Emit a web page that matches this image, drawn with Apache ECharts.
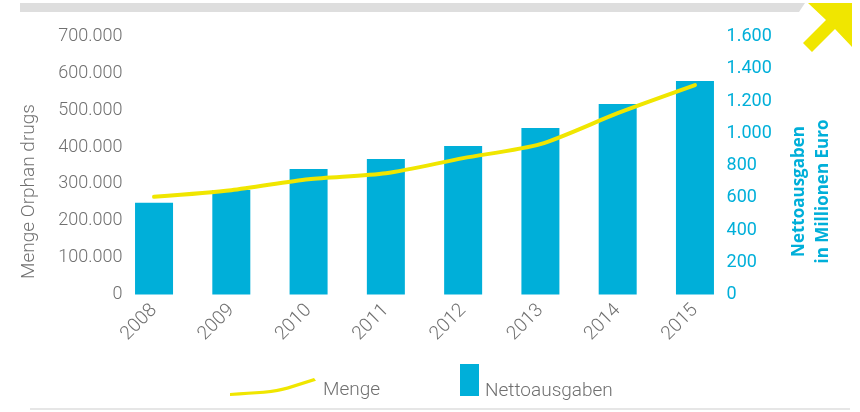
<!DOCTYPE html>
<html>
<head>
<meta charset="utf-8">
<script src="https://cdn.jsdelivr.net/npm/echarts@6/dist/echarts.min.js"></script>
<style>
  html, body { margin: 0; padding: 0; background: #fff; }
  #chart { width: 860px; height: 412px; }
</style>
</head>
<body>
<div id="chart"></div>
<script>
// Daten
const years = ['2008', '2009', '2010', '2011', '2012', '2013', '2014', '2015'];
const menge = [265000, 283000, 313000, 329000, 370000, 408000, 492000, 568000];
const nettoausgaben = [569, 648, 778, 840, 921, 1033, 1181, 1324];

const grey = '#707070';
const blue = '#00afd9';
const yellow = '#f0e600';
const font = 'Roboto';

// Tausenderpunkt: 700000 -> 700.000
function fmt(v) {
    return String(v).replace(/\B(?=(\d{3})+(?!\d))/g, '.');
}

const chart = echarts.init(document.getElementById('chart'));

const option = {
    animation: false,
    textStyle: { fontFamily: font },
    grid: {
        left: 115.4,
        right: 126.4,
        top: 36.5,
        bottom: 117.5
    },
    legend: [
        {
            data: [{ name: 'Menge', itemStyle: { color: yellow, borderWidth: 0 } }],
            left: 230,
            top: 378,
            padding: 0,
            itemWidth: 86,
            itemHeight: 18,
            icon: 'path://M0,15 C25,13.5 44,12.6 57,8.6 L84,0 L86,2.8 L58.5,11.6 C46,15.6 26,16.6 0,18 Z',
            formatter: '{t|{name}}',
            textStyle: {
                rich: {
                    t: { color: grey, fontSize: 19, fontWeight: 300, fontFamily: font, padding: [7, 0, 0, 2] }
                }
            }
        },
        {
            data: [{ name: 'Nettoausgaben', itemStyle: { color: blue, borderWidth: 0 } }],
            left: 460,
            top: 364,
            padding: 0,
            itemWidth: 19,
            itemHeight: 32,
            icon: 'rect',
            formatter: '{t|{name}}',
            textStyle: {
                rich: {
                    t: { color: grey, fontSize: 19, fontWeight: 300, fontFamily: font, padding: [23, 0, 0, 1] }
                }
            }
        }
    ],
    xAxis: {
        type: 'category',
        data: years,
        axisLine: { show: false },
        axisTick: { show: false },
        axisLabel: {
            rotate: 45,
            margin: 13,
            color: grey,
            fontSize: 19,
            fontWeight: 300,
            fontFamily: font
        }
    },
    yAxis: [
        {
            type: 'value',
            position: 'left',
            min: 0,
            max: 700000,
            interval: 100000,
            name: 'Menge Orphan drugs',
            nameLocation: 'middle',
            nameGap: 77,
            nameRotate: 90,
            nameTextStyle: { color: grey, fontSize: 19, fontWeight: 300, fontFamily: font, padding: [0, 52, 0, 0] },
            axisLine: { show: false },
            axisTick: { show: false },
            splitLine: { show: false },
            axisLabel: {
                margin: -7,
                color: grey,
                fontSize: 18,
                fontWeight: 300,
                fontFamily: font,
                formatter: fmt
            }
        },
        {
            type: 'value',
            position: 'right',
            min: 0,
            max: 1600,
            interval: 200,
            name: 'Nettoausgaben\nin Millionen Euro',
            nameLocation: 'middle',
            nameGap: 54,
            nameRotate: 90,
            nameTextStyle: {
                color: blue,
                fontSize: 17,
                fontWeight: 'bold',
                fontFamily: 'Open Sans',
                lineHeight: 24,
                padding: [0, 52, 0, 0]
            },
            axisLine: { show: false },
            axisTick: { show: false },
            splitLine: { show: false },
            axisLabel: {
                margin: -7,
                color: blue,
                fontSize: 18,
                fontFamily: font,
                formatter: fmt
            }
        }
    ],
    series: [
        {
            name: 'Nettoausgaben',
            type: 'bar',
            yAxisIndex: 1,
            barWidth: 38,
            itemStyle: { color: blue },
            data: nettoausgaben
        },
        {
            name: 'Menge',
            type: 'line',
            yAxisIndex: 0,
            smooth: 0.25,
            symbol: 'none',
            z: 5,
            color: yellow,
            lineStyle: { color: yellow, width: 4, cap: 'round' },
            data: menge
        }
    ],
    graphic: [
        // grauer Balken oben
        {
            type: 'polygon',
            shape: { points: [[20, 3], [805, 3], [799, 12], [20, 12]] },
            style: { fill: '#dedede' },
            silent: true
        },
        // gelber Pfeil oben rechts
        {
            type: 'polygon',
            shape: {
                points: [[852, 3], [808, 3], [826, 20], [803, 43], [812, 52], [835, 29], [852, 47]]
            },
            style: { fill: yellow },
            silent: true
        },
        // Linie unten
        {
            type: 'rect',
            shape: { x: 30, y: 408, width: 820, height: 2 },
            style: { fill: '#e6e6e6' },
            silent: true
        }
    ]
};

chart.setOption(option);
</script>
</body>
</html>
